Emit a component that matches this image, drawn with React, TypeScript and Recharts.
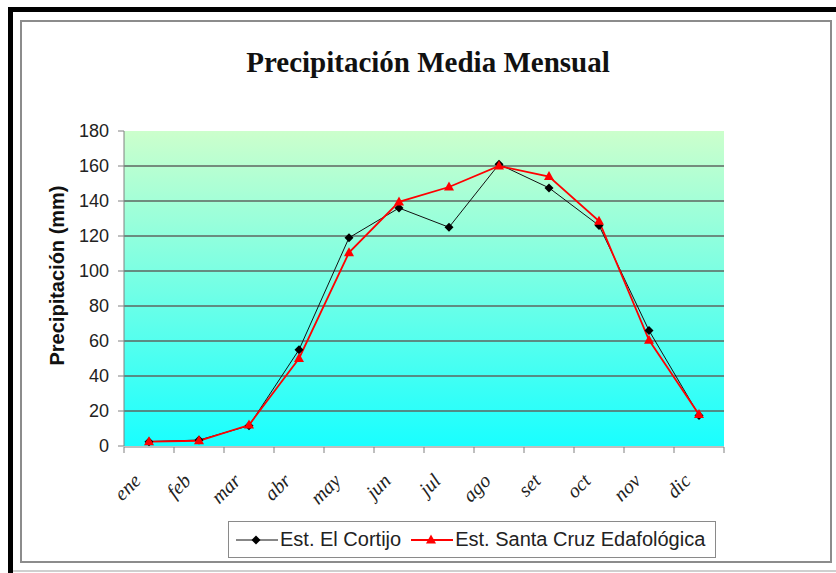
import React from 'react';
import {
	LineChart,
	Line,
	XAxis,
	YAxis,
	CartesianGrid,
	ReferenceLine,
	Legend,
	Label,
} from 'recharts';

const months = ['ene', 'feb', 'mar', 'abr', 'may', 'jun', 'jul', 'ago', 'set', 'oct', 'nov', 'dic'];
const elCortijo = [2.5, 3.4, 11.6, 55, 119, 136, 125, 161, 147.5, 126, 66, 17.5];
const santaCruz = [2.5, 3, 12, 50, 110.5, 139.5, 148, 160, 154, 128.5, 60.5, 18];
const yTicks = [0, 20, 40, 60, 80, 100, 120, 140, 160, 180];
const gridValues = [20, 40, 60, 80, 100, 120, 140, 160];
// tick marks sit between the months, like Excel does
const boundaryTicks = [...months.map((_, i) => i), months.length];

const data = months.map((m, i) => ({
	month: m,
	idx: i + 0.5,
	cortijo: elCortijo[i],
	santaCruz: santaCruz[i],
}));

const SANS = '"Liberation Sans", Arial, sans-serif';
const SERIF = '"Liberation Serif", "Times New Roman", serif';

const MonthTick: React.FC<any> = ({ x, y, payload }) => (
	<text
		transform={`translate(${x - 7},${y + 36}) rotate(-45)`}
		textAnchor="end"
		fontFamily={SERIF}
		fontStyle="italic"
		fontSize={20}
		fill="#222"
	>
		{payload.value}
	</text>
);

const EmptyTick: React.FC<any> = () => <g />;

const YTitle: React.FC<any> = ({ viewBox }) => {
	const vb = viewBox || { x: 54, y: 131, height: 315 };
	const cx = vb.x + 3;
	const cy = vb.y + vb.height / 2 - 13;
	return (
		<text
			transform={`translate(${cx},${cy}) rotate(-90)`}
			textAnchor="middle"
			dominantBaseline="central"
			fontFamily={SANS}
			fontWeight="bold"
			fontSize={20}
			fill="#111"
		>
			Precipitación (mm)
		</text>
	);
};

const Diamond: React.FC<any> = ({ cx, cy }) => (
	<path d={`M${cx},${cy - 4.5}L${cx + 4.5},${cy}L${cx},${cy + 4.5}L${cx - 4.5},${cy}Z`} fill="#000" />
);

const Triangle: React.FC<any> = ({ cx, cy }) => (
	<path d={`M${cx},${cy - 5.5}L${cx + 5},${cy + 3.5}L${cx - 5},${cy + 3.5}Z`} fill="#ff0000" />
);

const LegendBox: React.FC<any> = ({ payload }) => {
	const items = payload || [];
	return (
		<div
			style={{
				boxSizing: 'border-box',
				width: 488,
				height: 37,
				border: '1.5px solid #8a8a8a',
				background: '#fff',
				display: 'flex',
				alignItems: 'center',
				paddingLeft: 7,
				fontFamily: SANS,
				fontSize: 20,
				color: '#222',
				whiteSpace: 'nowrap',
			}}
		>
			{items.map((item: any, i: number) => (
				<React.Fragment key={item.value}>
					<svg width={42} height={16} style={{ marginLeft: i === 0 ? 0 : 10 }}>
						<line x1={0} y1={8} x2={42} y2={8} stroke={item.color} strokeWidth={i === 0 ? 1 : 1.8} />
						{i === 0 ? <Diamond cx={20} cy={8} /> : <Triangle cx={20} cy={8} />}
					</svg>
					<span style={{ marginLeft: 2 }}>{item.value}</span>
				</React.Fragment>
			))}
		</div>
	);
};

export default function App() {
	return (
		<div style={{ position: 'relative', width: 836, height: 573, overflow: 'hidden', background: '#fff' }}>
			<style>{'body{margin:0}'}</style>
			<div
				style={{
					position: 'absolute',
					left: 8,
					top: 7,
					width: 900,
					height: 600,
					borderLeft: '5px solid #000',
					borderTop: '5px solid #000',
				}}
			/>
			<div
				style={{
					position: 'absolute',
					left: 20,
					top: 20,
					width: 812,
					height: 543,
					boxSizing: 'border-box',
					border: '2px solid #8c8c8c',
				}}
			/>
			<div style={{ position: 'absolute', left: 13, top: 570, width: 830, height: 2, background: '#cfcfcf' }} />
			<div
				style={{
					position: 'absolute',
					left: 0,
					width: 856,
					top: 48,
					textAlign: 'center',
					fontFamily: SERIF,
					fontWeight: 'bold',
					fontSize: 29,
					lineHeight: '29px',
					color: '#111',
				}}
			>
				Precipitación Media Mensual
			</div>
			<div style={{ position: 'absolute', left: 0, top: 0 }}>
				<LineChart
					width={836}
					height={573}
					data={data}
					margin={{ top: 131, right: 112, bottom: 125, left: 54 }}
				>
					<defs>
						<linearGradient id="plotBg" x1="0" y1="0" x2="0" y2="1">
							<stop offset="0%" stopColor="#ccffcc" />
							<stop offset="100%" stopColor="#19ffff" />
						</linearGradient>
					</defs>
					<CartesianGrid
						xAxisId="grid"
						horizontal={false}
						vertical={false}
						fill="url(#plotBg)"
						fillOpacity={1}
					/>
					<XAxis
						xAxisId="grid"
						dataKey="idx"
						type="number"
						domain={[0, 12]}
						ticks={boundaryTicks}
						allowDataOverflow
						interval={0}
						tick={<EmptyTick />}
						tickSize={6}
						height={1}
						stroke="#808080"
					/>
					<XAxis
						xAxisId="cat"
						dataKey="month"
						padding={{ left: 25, right: 25 }}
						height={1}
						axisLine={false}
						tickLine={false}
						tickSize={0}
						tickMargin={0}
						interval={0}
						tick={<MonthTick />}
					/>
					<YAxis
						domain={[0, 180]}
						ticks={yTicks}
						interval={0}
						width={70}
						tickSize={6}
						tickMargin={9}
						stroke="#808080"
						tick={{ fill: '#222', fontSize: 18, fontFamily: SANS }}
					>
						<Label content={<YTitle />} />
					</YAxis>
					{gridValues.map((v) => (
						<ReferenceLine key={v} y={v} xAxisId="grid" stroke="#5e6660" strokeWidth={1.6} />
					))}
					<Line
						xAxisId="cat"
						dataKey="cortijo"
						name="Est. El Cortijo"
						stroke="#111"
						strokeWidth={1}
						dot={<Diamond />}
						activeDot={false}
						isAnimationActive={false}
					/>
					<Line
						xAxisId="cat"
						dataKey="santaCruz"
						name="Est. Santa Cruz Edafológica"
						stroke="#ff0000"
						strokeWidth={1.8}
						dot={<Triangle />}
						activeDot={false}
						isAnimationActive={false}
					/>
					<Legend
						verticalAlign="middle"
						align="center"
						wrapperStyle={{ left: 228, top: 521, width: 488, height: 37 }}
						content={<LegendBox />}
					/>
				</LineChart>
			</div>
		</div>
	);
}
